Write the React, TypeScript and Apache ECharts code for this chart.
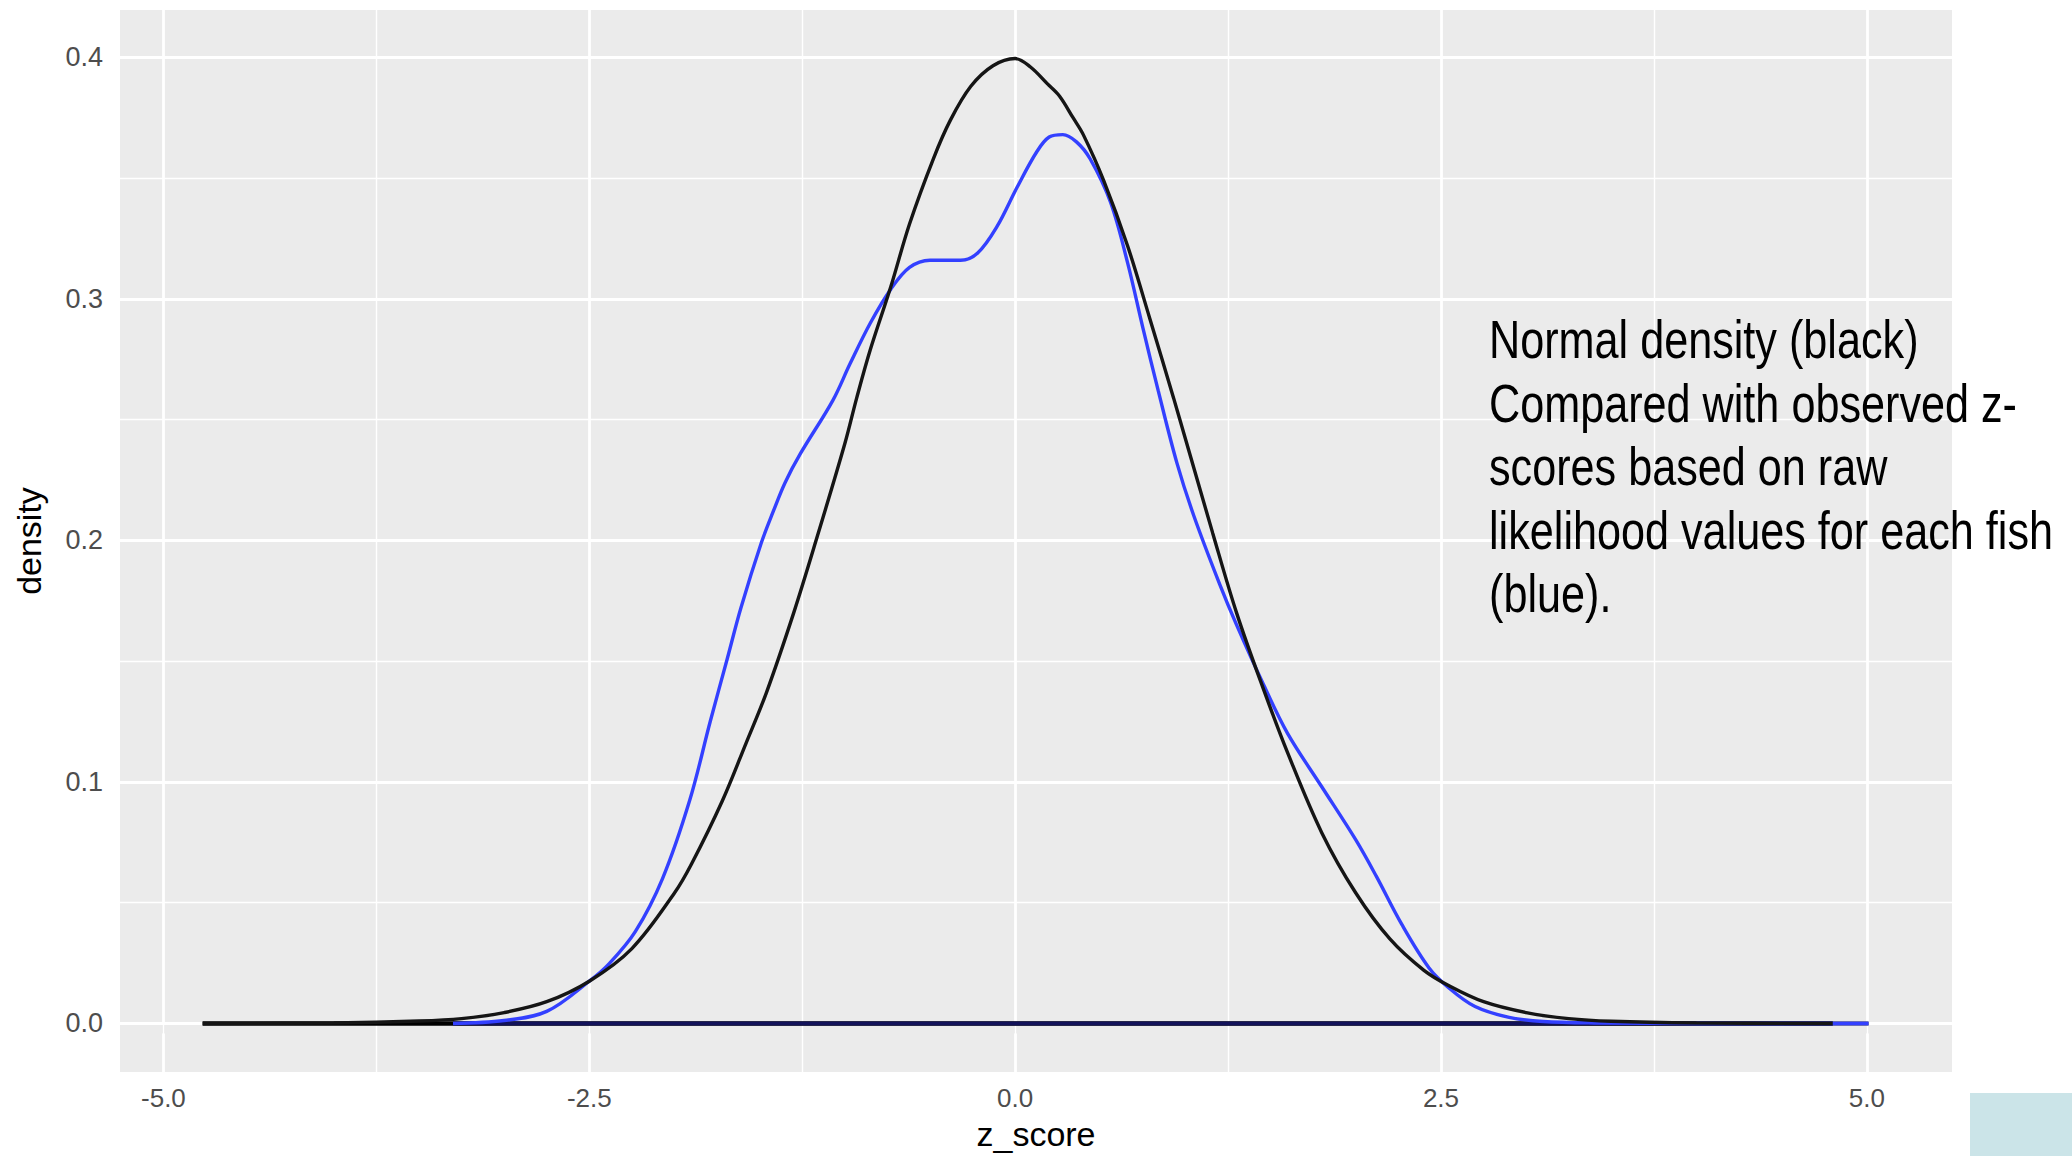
import React, { useEffect, useRef } from "react";
import * as echarts from "echarts";

// Axis ticks and grid positions
const xMajor = [-5, -2.5, 0, 2.5, 5];
const xMinor = [-3.75, -1.25, 1.25, 3.75];
const yMajor = [0, 0.1, 0.2, 0.3, 0.4];
const yMinor = [0.05, 0.15, 0.25, 0.35];

// Normal density (black)
const blackX = [-4.77, -4.0, -3.5, -3.25, -3.0, -2.75, -2.5, -2.25, -2.0, -1.9, -1.72, -1.58, -1.46, -1.3, -1.16, -1.0, -0.93, -0.85, -0.73, -0.62, -0.48, -0.38, -0.26, -0.13, 0, 0.09, 0.19, 0.26, 0.34, 0.4, 0.52, 0.66, 0.79, 0.93, 1.0, 1.16, 1.3, 1.46, 1.6, 1.8, 2.0, 2.2, 2.4, 2.55, 2.75, 3.0, 3.25, 3.5, 4.0, 4.8];
const blackY = [0, 0.0002, 0.001, 0.002, 0.0045, 0.009, 0.0175, 0.031, 0.054, 0.066, 0.092, 0.116, 0.137, 0.17, 0.202, 0.24, 0.259, 0.279, 0.305, 0.331, 0.358, 0.374, 0.388, 0.3965, 0.3995, 0.396, 0.389, 0.384, 0.375, 0.368, 0.349, 0.322, 0.292, 0.259, 0.242, 0.203, 0.17, 0.138, 0.112, 0.079, 0.054, 0.035, 0.022, 0.0155, 0.009, 0.0045, 0.002, 0.0009, 0.0002, 0];

// Observed z-score density (blue)
const blueX = [-3.3, -3.0, -2.75, -2.5, -2.38, -2.23, -2.07, -1.91, -1.79, -1.69, -1.61, -1.49, -1.42, -1.35, -1.26, -1.07, -0.97, -0.85, -0.73, -0.62, -0.5, -0.4, -0.32, -0.22, -0.106, 0.01, 0.128, 0.2, 0.28, 0.36, 0.44, 0.56, 0.66, 0.75, 0.84, 0.95, 1.05, 1.2, 1.3, 1.46, 1.6, 1.8, 2.0, 2.12, 2.27, 2.43, 2.55, 2.7, 2.9, 3.1, 3.4, 4.0, 5.01];
const blueY = [0, 0.0012, 0.005, 0.0175, 0.025, 0.038, 0.06, 0.0925, 0.125, 0.151, 0.172, 0.199, 0.212, 0.224, 0.236, 0.258, 0.273, 0.29, 0.304, 0.313, 0.316, 0.316, 0.316, 0.319, 0.33, 0.346, 0.361, 0.367, 0.368, 0.365, 0.358, 0.34, 0.315, 0.288, 0.262, 0.232, 0.21, 0.182, 0.165, 0.14, 0.12, 0.098, 0.076, 0.061, 0.041, 0.023, 0.0145, 0.007, 0.0025, 0.0008, 0.0002, 0, 0];

// Baselines of the two density outlines
const blackBaseX = [-4.77, 4.8];
const blueBaseX = [-3.3, 5.01];

const noteLines = [
  "Normal density (black)",
  "Compared with observed z-",
  "scores based on raw",
  "likelihood values for each fish",
  "(blue).",
];

const zip = (xs: number[], ys: number[]) => xs.map((x, i) => [x, ys[i]]);

export default function App() {
  const ref = useRef<HTMLDivElement>(null);
  useEffect(() => {
    document.body.style.margin = "0";
    const chart = echarts.init(ref.current!, null, { renderer: "svg" });
    const gridLines = [
      ...xMajor.map((v) => ({ xAxis: v, lineStyle: { color: "#ffffff", width: 2.8, type: "solid" } })),
      ...xMinor.map((v) => ({ xAxis: v, lineStyle: { color: "#ffffff", width: 1.4, type: "solid" } })),
      ...yMajor.map((v) => ({ yAxis: v, lineStyle: { color: "#ffffff", width: 2.8, type: "solid" } })),
      ...yMinor.map((v) => ({ yAxis: v, lineStyle: { color: "#ffffff", width: 1.4, type: "solid" } })),
    ];
    chart.setOption({
      animation: false,
      backgroundColor: "#ffffff",
      grid: {
        left: 120,
        top: 10,
        width: 1832,
        height: 1062,
        containLabel: false,
        outerBoundsMode: "none",
        show: true,
        backgroundColor: "#ebebeb",
        borderWidth: 0,
      },
      xAxis: {
        type: "value",
        min: -5.255,
        max: 5.5,
        name: "z_score",
        nameLocation: "middle",
        nameGap: 45,
        nameTextStyle: { fontFamily: "'Liberation Sans', Arial, sans-serif", fontSize: 34, color: "#000000" },
        axisLine: { show: false },
        splitLine: { show: false },
        axisTick: { show: true, length: 10, lineStyle: { color: "#333333", width: 2.6 }, customValues: xMajor },
        axisLabel: {
          customValues: xMajor,
          margin: 13,
          fontFamily: "'Liberation Sans', Arial, sans-serif",
          fontSize: 26,
          color: "#4d4d4d",
          formatter: (v: number) => v.toFixed(1),
        },
      },
      yAxis: {
        type: "value",
        min: -0.0201,
        max: 0.4196,
        name: "density",
        nameLocation: "middle",
        nameGap: 74,
        nameTextStyle: { fontFamily: "'Liberation Sans', Arial, sans-serif", fontSize: 34, color: "#000000" },
        axisLine: { show: false },
        splitLine: { show: false },
        axisTick: { show: true, length: 10, lineStyle: { color: "#333333", width: 2.6 }, customValues: yMajor },
        axisLabel: {
          customValues: yMajor,
          margin: 17,
          fontFamily: "'Liberation Sans', Arial, sans-serif",
          fontSize: 27,
          color: "#4d4d4d",
          formatter: (v: number) => v.toFixed(1),
        },
      },
      series: [
        {
          type: "line",
          name: "grid",
          data: [],
          z: 1,
          silent: true,
          markLine: {
            silent: true,
            z: 1,
            symbol: ["none", "none"],
            label: { show: false },
            animation: false,
            data: gridLines,
          },
        },
        {
          type: "line",
          name: "black baseline",
          data: blackBaseX.map((x) => [x, 0]),
          showSymbol: false,
          z: 10,
          lineStyle: { color: "#000000", width: 4.5 },
        },
        {
          type: "line",
          name: "blue baseline",
          data: blueBaseX.map((x) => [x, 0]),
          showSymbol: false,
          z: 11,
          lineStyle: { color: "#12125a", width: 4 },
        },
        {
          type: "line",
          name: "observed",
          data: zip(blueX, blueY),
          showSymbol: false,
          smooth: 0.35,
          z: 12,
          lineStyle: { color: "#3340ff", width: 3.4 },
        },
        {
          type: "line",
          name: "normal",
          data: zip(blackX, blackY),
          showSymbol: false,
          smooth: 0.35,
          z: 13,
          lineStyle: { color: "#151515", width: 3.4 },
        },
      ],
      graphic: [
        {
          type: "text",
          x: 1489,
          y: 308,
          scaleX: 0.8,
          z: 100,
          style: {
            text: noteLines.join("\n"),
            font: "54px 'Liberation Sans', Arial, sans-serif",
            lineHeight: 63.4,
            fill: "#000000",
            verticalAlign: "top",
          },
        },
        {
          type: "rect",
          shape: { x: 1970, y: 1093, width: 102, height: 63 },
          style: { fill: "#cbe4e8" },
          z: 100,
        },
      ],
    });
    return () => chart.dispose();
  }, []);
  return <div ref={ref} style={{ width: 2072, height: 1156 }} />;
}
